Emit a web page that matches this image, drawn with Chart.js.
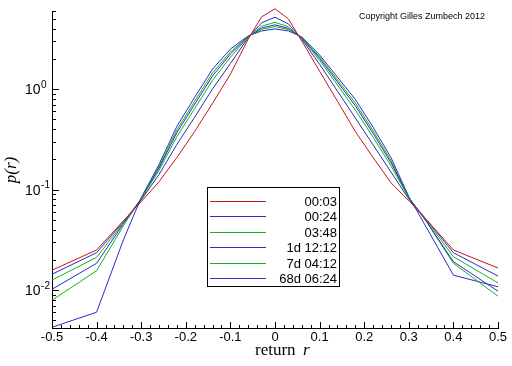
<!DOCTYPE html>
<html>
<head>
<meta charset="utf-8">
<script src="https://cdn.jsdelivr.net/npm/chart.js@4.4.1/dist/chart.umd.min.js"></script>
<style>
  html, body { margin: 0; padding: 0; background: #fff; }
  canvas { display: block; }
</style>
</head>
<body>
<canvas id="c" width="512" height="366"></canvas>
<script>
// return bins (x) and density per time horizon (y, log scale)
const returns = [-0.5, -0.4, -0.34, -0.3, -0.26, -0.22, -0.18, -0.14, -0.1, -0.06, -0.03, 0,
                 0.03, 0.06, 0.1, 0.14, 0.18, 0.22, 0.26, 0.3, 0.34, 0.4, 0.5];

const p_0003 = [0.0158, 0.0251, 0.049, 0.0759, 0.120, 0.209, 0.380, 0.724, 1.41, 3.16, 5.25, 6.31,
                5.01, 3.02, 1.51, 0.759, 0.380, 0.209, 0.117, 0.0776, 0.0501, 0.0251, 0.0166];
const p_0024 = [0.0144, 0.0236, 0.0479, 0.0789, 0.1416, 0.282, 0.528, 1.007, 1.80, 3.26, 4.58, 5.20,
                4.47, 3.14, 1.77, 0.957, 0.518, 0.279, 0.150, 0.0807, 0.0501, 0.0236, 0.0138];
const p_0348 = [0.0126, 0.0212, 0.0468, 0.0807, 0.156, 0.337, 0.643, 1.224, 2.08, 3.31, 4.23, 4.63,
                4.17, 3.21, 1.94, 1.10, 0.622, 0.332, 0.173, 0.0826, 0.049, 0.0215, 0.0118];
const p_1d   = [0.0102, 0.0185, 0.0457, 0.0817, 0.164, 0.370, 0.711, 1.355, 2.24, 3.34, 4.06, 4.37,
                4.02, 3.25, 2.03, 1.18, 0.685, 0.363, 0.186, 0.0836, 0.0479, 0.0192, 0.00977];
const p_7d   = [0.00794, 0.0156, 0.0437, 0.0822, 0.170, 0.393, 0.760, 1.45, 2.35, 3.37, 3.94, 4.20,
                3.93, 3.27, 2.10, 1.24, 0.729, 0.385, 0.195, 0.0841, 0.0479, 0.0185, 0.00871];
const p_68d  = [0.00427, 0.00603, 0.0316, 0.0832, 0.178, 0.427, 0.832, 1.585, 2.51, 3.39, 3.80, 3.98,
                3.80, 3.31, 2.19, 1.318, 0.794, 0.417, 0.209, 0.0851, 0.0417, 0.0141, 0.0108];

const seriesLabels = ['00:03', '00:24', '03:48', '1d 12:12', '7d 04:12', '68d 06:24'];
const seriesColors = ['#c81414', '#2a2ac8', '#14b414', '#2a2ac8', '#14b414', '#2a2ac8'];
const seriesData = [p_0003, p_0024, p_0348, p_1d, p_7d, p_68d];

// axis ticks
const xMajor = [-0.5, -0.4, -0.3, -0.2, -0.1, 0, 0.1, 0.2, 0.3, 0.4, 0.5];
const xLabels = ['-0.5', '-0.4', '-0.3', '-0.2', '-0.1', '0', '0.1', '0.2', '0.3', '0.4', '0.5'];
const yMajor = [0.01, 0.1, 1];
const yExp = ['-2', '-1', '0'];

const FONT = "'Liberation Sans', Arial, sans-serif";
const SERIF = "'Liberation Serif', 'Times New Roman', serif";

// tick marks point into the plot, like the original
const inwardTicks = {
  id: 'inwardTicks',
  afterDraw(chart) {
    const ctx = chart.ctx, a = chart.chartArea;
    const xs = chart.scales.x, ys = chart.scales.y;
    ctx.save();
    ctx.strokeStyle = '#000';
    ctx.lineWidth = 1;
    ctx.beginPath();
    xs.ticks.forEach(t => {
      const px = Math.round(xs.getPixelForValue(t.value)) + 0.5;
      const len = t.major ? 6 : 3;
      ctx.moveTo(px, a.bottom);
      ctx.lineTo(px, a.bottom - len);
    });
    ys.ticks.forEach(t => {
      const py = Math.round(ys.getPixelForValue(t.value)) + 0.5;
      const len = t.major ? 7 : 4;
      ctx.moveTo(a.left, py);
      ctx.lineTo(a.left + len, py);
    });
    ctx.stroke();

    // y labels 10^n, left aligned
    ctx.fillStyle = '#000';
    ctx.textBaseline = 'middle';
    ctx.textAlign = 'left';
    yMajor.forEach((v, i) => {
      const py = ys.getPixelForValue(v);
      ctx.font = '14px ' + FONT;
      ctx.fillText('10', 25, py + 1);
      const w = ctx.measureText('10').width;
      ctx.font = '10px ' + FONT;
      ctx.fillText(yExp[i], 25 + w + 0.5, py - 4);
    });

    // axis titles
    ctx.textBaseline = 'alphabetic';
    ctx.font = '17px ' + SERIF;
    ctx.fillText('return', 255, 355);
    ctx.font = 'italic 17px ' + SERIF;
    ctx.fillText('r', 303, 355);

    ctx.save();
    ctx.translate(16, 170);
    ctx.rotate(-Math.PI / 2);
    ctx.textAlign = 'center';
    ctx.font = 'italic 17px ' + SERIF;
    ctx.fillText('p(r)', 0, 0);
    ctx.restore();

    // copyright
    ctx.font = '9px ' + FONT;
    ctx.fillText('Copyright Gilles Zumbech 2012', 359, 19);
    ctx.restore();
  }
};

// boxed legend inside the plot
const boxLegend = {
  id: 'boxLegend',
  afterDraw(chart) {
    const ctx = chart.ctx;
    const bx = 207, by = 187, bw = 132, bh = 99;
    ctx.save();
    ctx.fillStyle = '#fff';
    ctx.fillRect(bx, by, bw, bh);
    ctx.strokeStyle = '#000';
    ctx.lineWidth = 1;
    ctx.strokeRect(bx + 0.5, by + 0.5, bw, bh);
    ctx.font = '13px ' + FONT;
    ctx.textAlign = 'right';
    ctx.textBaseline = 'middle';
    chart.data.datasets.forEach((ds, i) => {
      const y = Math.round(by + 14 + i * 15.4) + 0.5;
      ctx.strokeStyle = ds.borderColor;
      ctx.beginPath();
      ctx.moveTo(bx + 3, y);
      ctx.lineTo(bx + 59, y);
      ctx.stroke();
      ctx.fillStyle = '#000';
      ctx.fillText(ds.label, bx + bw - 2, y + 1);
    });
    ctx.restore();
  }
};

new Chart(document.getElementById('c'), {
  type: 'line',
  data: {
    datasets: seriesData.map((s, i) => ({
      label: seriesLabels[i],
      data: returns.map((r, j) => ({ x: r, y: s[j] })),
      borderColor: seriesColors[i],
      borderWidth: 1,
      pointRadius: 0,
      tension: 0,
      fill: false,
      clip: false
    }))
  },
  options: {
    responsive: false,
    animation: false,
    events: [],
    layout: { padding: { left: 0, right: 14, top: 11, bottom: 0 } },
    plugins: { legend: { display: false }, tooltip: { enabled: false } },
    scales: {
      x: {
        type: 'linear',
        min: -0.5,
        max: 0.5,
        afterFit(s) { s.height = 38; },
        afterBuildTicks(s) {
          const t = [];
          for (let k = -25; k <= 25; k++) {
            const v = k / 50;
            t.push({ value: v, major: k % 5 === 0 });
          }
          s.ticks = t;
        },
        grid: { drawOnChartArea: false, drawTicks: false },
        border: { display: true, color: '#000', width: 1 },
        ticks: {
          autoSkip: false,
          maxRotation: 0,
          padding: 2,
          color: '#000',
          font: { family: FONT, size: 13 },
          callback(v) {
            const i = xMajor.findIndex(m => Math.abs(m - v) < 1e-9);
            return i >= 0 ? xLabels[i] : '';
          }
        }
      },
      y: {
        type: 'logarithmic',
        min: 0.0042,
        max: 6,
        afterFit(s) { s.width = 52; },
        afterBuildTicks(s) {
          const t = [];
          for (let e = -3; e <= 0; e++) {
            for (let m = 1; m <= 9; m++) {
              const v = m * Math.pow(10, e);
              if (v >= 0.0042 && v <= 6) t.push({ value: v, major: m === 1 });
            }
          }
          s.ticks = t;
        },
        grid: { drawOnChartArea: false, drawTicks: false },
        border: { display: true, color: '#000', width: 1 },
        ticks: { display: false }
      }
    }
  },
  plugins: [inwardTicks, boxLegend]
});
</script>
</body>
</html>
